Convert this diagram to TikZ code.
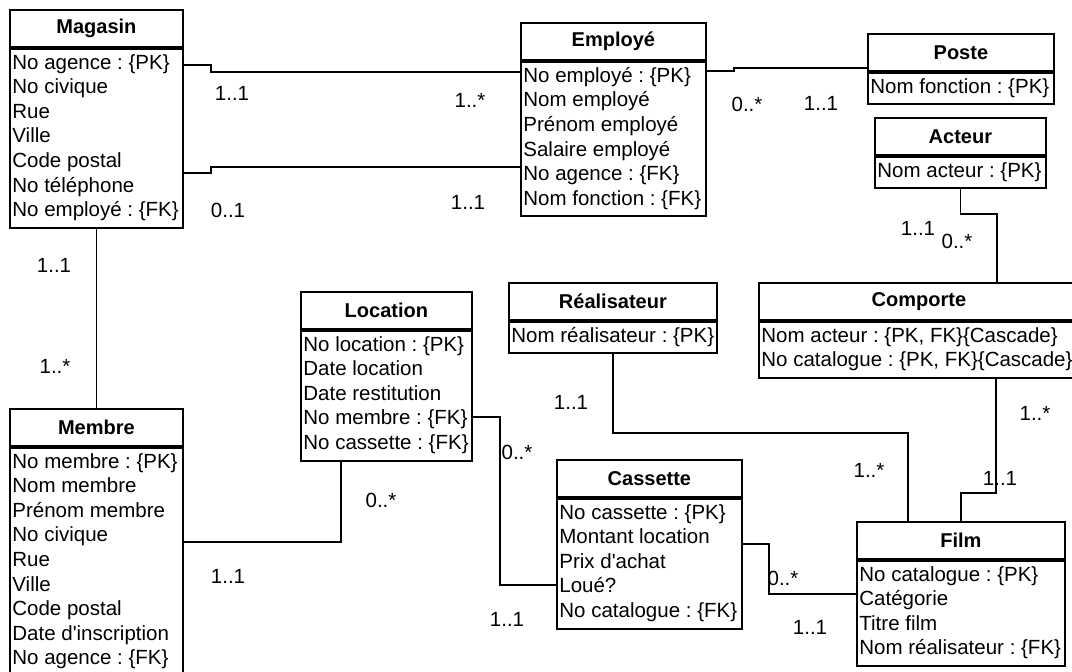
\documentclass[tikz,border=0pt]{standalone}
\usepackage{fontspec}
\setmainfont{Liberation Sans}
\usetikzlibrary{calc}
\tikzset{
  hdr/.style={draw, line width=0.9pt, inner sep=0pt, minimum height=18.5pt, font=\bfseries},
  bdy/.style={draw, line width=0.9pt, inner sep=0pt},
  rows/.style={inner sep=0pt, align=left, anchor=north west},
  conn/.style={line width=0.9pt},
  card/.style={inner sep=0pt, anchor=center}
}
\newcommand\umlcls[7]{%
  \node[hdr, minimum width={#4*0.5pt}, anchor=north west] (#1-h) at (#2,#3) {#6};
  \node[bdy, minimum width={#4*0.5pt}, minimum height={(24.6*#5+7)*0.5pt}, anchor=north west] (#1) at (#1-h.south west) {};
  \node[rows] (#1-t) at ($(#1.north west)+(3,6)$) {#7};
}
\begin{document}
\begin{tikzpicture}[x=0.5pt,y=-0.5pt,font=\fontsize{10.25}{12.3}\selectfont\frenchspacing]
\useasboundingbox (0,0) rectangle (1072,671);
\clip (0,0) rectangle (1072,671);

\umlcls{magasin}{9}{9}{173}{7}{Magasin}{No agence : \{PK\}\\No civique\\Rue\\Ville\\Code postal\\No téléphone\\No employé : \{FK\}}
\umlcls{employe}{520}{22}{185}{6}{Employé}{No employé : \{PK\}\\Nom employé\\Prénom employé\\Salaire employé\\No agence : \{FK\}\\Nom fonction : \{FK\}}
\umlcls{poste}{867}{33}{186}{1}{Poste}{Nom fonction : \{PK\}}
\umlcls{acteur}{874}{117}{171}{1}{Acteur}{Nom acteur : \{PK\}}
\umlcls{comporte}{758}{282}{320}{2}{Comporte}{Nom acteur : \{PK, FK\}\{Cascade\}\\No catalogue : \{PK, FK\}\{Cascade\}}
\umlcls{realisateur}{508}{282}{208}{1}{Réalisateur}{Nom réalisateur : \{PK\}}
\umlcls{location}{300}{291}{171}{5}{Location}{No location : \{PK\}\\Date location\\Date restitution\\No membre : \{FK\}\\No cassette : \{FK\}}
\umlcls{membre}{9}{408}{173}{9}{Membre}{No membre : \{PK\}\\Nom membre\\Prénom membre\\No civique\\Rue\\Ville\\Code postal\\Date d\textquotesingle inscription\\No agence : \{FK\}}
\umlcls{cassette}{556}{459}{185}{5}{Cassette}{No cassette : \{PK\}\\Montant location\\Prix d\textquotesingle achat\\Loué?\\No catalogue : \{FK\}}
\umlcls{film}{856}{521}{208}{4}{Film}{No catalogue : \{PK\}\\Catégorie\\Titre film\\Nom réalisateur : \{FK\}}

% connectors
\draw[conn] ($(magasin.north east)+(0,17)$) -- ++(27,0) |- ($(employe.north west)+(0,11)$);
\draw[conn] ($(magasin.north east)+(0,125)$) -- ++(27,0) |- ($(employe.north west)+(0,106)$);
\draw[conn] ($(employe.north east)+(0,10)$) -- ++(27,0) |- ($(poste-h.south west)+(0,-4)$);
\draw[conn] (magasin.south) -- (membre-h.north);
\draw[conn] ($(location.south west)+(41,0)$) |- ($(membre.north east)+(0,95)$);
\draw[conn] ($(location.north east)+(0,87)$) -- ++(27,0) |- ($(cassette.north west)+(0,87)$);
\draw[conn] ($(cassette.north east)+(0,46)$) -- ++(26,0) |- ($(film.north west)+(0,34)$);
\draw[conn] (realisateur.south) |- ($(film-h.north west)+(52,-88)$) -- ($(film-h.north west)+(52,0)$);
\draw[conn] ($(comporte.south west)+(238,0)$) |- ($(film-h.north)+(0,-28)$) -- (film-h.north);
\draw[conn] (acteur.south) |- ($(comporte-h.north west)+(239,-68)$) -- ($(comporte-h.north west)+(239,0)$);

% cardinalities
\node[card] (c1) at (232,93) {1..1};
\node[card] (c2) at (228,210) {0..1};
\node[card] (c3) at (470,100) {1..*};
\node[card] (c4) at (468,202) {1..1};
\node[card] (c5) at (747,104) {0..*};
\node[card] (c6) at (821,103) {1..1};
\node[card] (c7) at (918,228) {1..1};
\node[card] (c8) at (957,241) {0..*};
\node[card] (c9) at (54,265) {1..1};
\node[card] (c10) at (55,366) {1..*};
\node[card] (c11) at (381,500) {0..*};
\node[card] (c12) at (228,576) {1..1};
\node[card] (c13) at (571,402) {1..1};
\node[card] (c14) at (517,452) {0..*};
\node[card] (c15) at (507,619) {1..1};
\node[card] (c16) at (869,470) {1..*};
\node[card] (c17) at (1035,413) {1..*};
\node[card] (c18) at (1000,478) {1..1};
\node[card] (c19) at (783,578) {0..*};
\node[card] (c20) at (810,627) {1..1};
\end{tikzpicture}
\end{document}
